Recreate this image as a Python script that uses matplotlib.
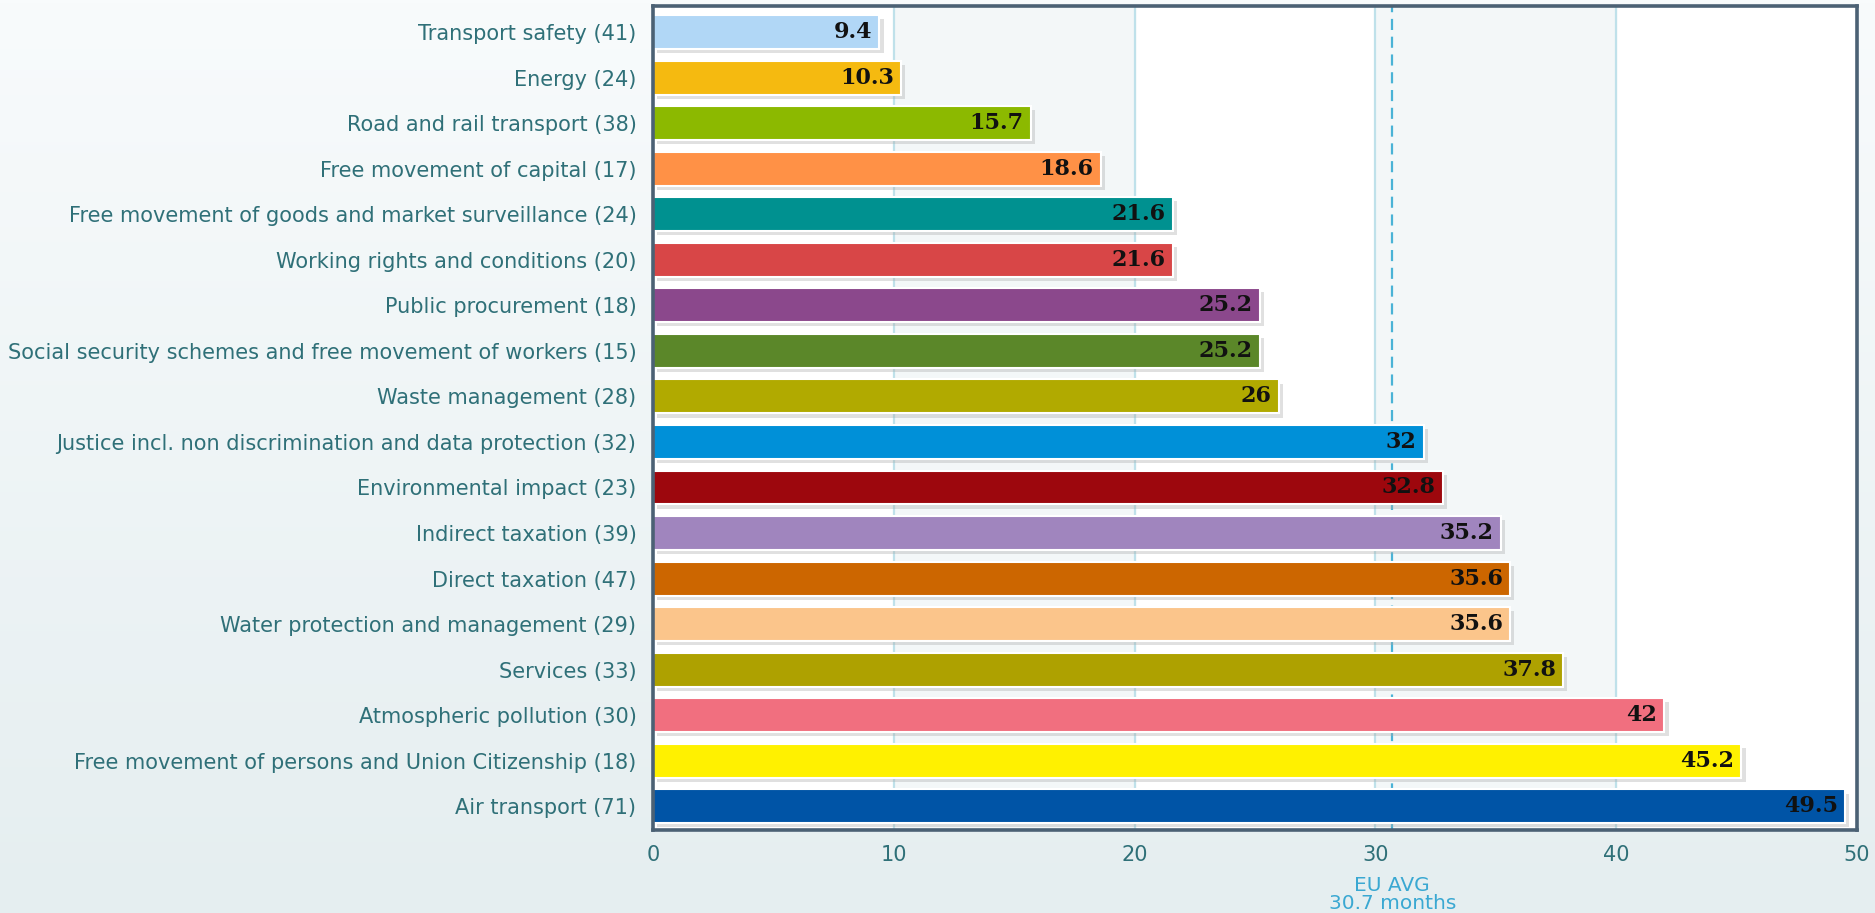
import matplotlib
matplotlib.use("Agg")
import matplotlib.pyplot as plt
import matplotlib.patheffects as pe
from matplotlib.colors import LinearSegmentedColormap
import numpy as np

# Datos del gráfico (de arriba hacia abajo)
categorias = [
    "Transport safety (41)",
    "Energy (24)",
    "Road and rail transport (38)",
    "Free movement of capital (17)",
    "Free movement of goods and market surveillance (24)",
    "Working rights and conditions (20)",
    "Public procurement (18)",
    "Social security schemes and free movement of workers (15)",
    "Waste management (28)",
    "Justice incl. non discrimination and data protection (32)",
    "Environmental impact (23)",
    "Indirect taxation (39)",
    "Direct taxation (47)",
    "Water protection and management (29)",
    "Services (33)",
    "Atmospheric pollution (30)",
    "Free movement of persons and Union Citizenship (18)",
    "Air transport (71)",
]
valores = [9.4, 10.3, 15.7, 18.6, 21.6, 21.6, 25.2, 25.2, 26, 32, 32.8, 35.2,
           35.6, 35.6, 37.8, 42, 45.2, 49.5]
etiquetas = ["9.4", "10.3", "15.7", "18.6", "21.6", "21.6", "25.2", "25.2", "26",
             "32", "32.8", "35.2", "35.6", "35.6", "37.8", "42", "45.2", "49.5"]
colores = ["#b1d7f6", "#f5ba10", "#8cb900", "#ff9146", "#009190", "#d84647",
           "#8b488c", "#5b8729", "#b1aa00", "#0090d8", "#9d070d", "#a085be",
           "#cc6600", "#fbc58b", "#aea100", "#f16f7f", "#fff100", "#0054a6"]
media_ue = 30.7
ticks_x = [0, 10, 20, 30, 40, 50]

COLOR_TEXTO = "#2f7078"

fig = plt.figure(figsize=(18.75, 9.13), dpi=100)

# Fondo degradado
fondo = fig.add_axes([0, 0, 1, 1], zorder=-10)
grad = np.linspace(0, 1, 256).reshape(-1, 1)
cmap_fondo = LinearSegmentedColormap.from_list("fondo", ["#f8fbfc", "#e5eef0"])
fondo.imshow(grad, aspect="auto", cmap=cmap_fondo, extent=[0, 1, 0, 1])
fondo.axis("off")

ax = fig.add_axes([0.3483, 0.0909, 0.6421, 0.9025])
ax.set_facecolor("white")

y = np.arange(len(categorias))

# Bandas alternas y líneas de cuadrícula
for i in range(len(ticks_x) - 1):
    if i % 2 == 1:
        ax.axvspan(ticks_x[i], ticks_x[i + 1], color="#f3f7f8", zorder=0)
for t in ticks_x[1:-1]:
    ax.axvline(t, color="#bfe1ea", lw=1.6, zorder=1)
ax.axvline(media_ue, color="#4ab3d6", lw=1.6, ls=(0, (5, 3)), zorder=1)

barras = ax.barh(y, valores, height=0.745, color=colores, edgecolor="white",
                 linewidth=1.5, zorder=3)
for b in barras:
    b.set_path_effects([pe.SimplePatchShadow(offset=(3, -3), shadow_rgbFace="#a8a8a8", alpha=0.35),
                        pe.Normal()])

for yi, v, et in zip(y, valores, etiquetas):
    ax.text(v - 0.3, yi, et, ha="right", va="center", fontsize=16,
            fontweight="bold", family="DejaVu Serif", color="#111111", zorder=4)

ax.set_xlim(0, 50)
ax.set_ylim(len(categorias) - 0.48, -0.57)
ax.set_xticks(ticks_x)
ax.set_yticks(y)
ax.set_yticklabels(categorias)
ax.tick_params(axis="y", length=0, pad=12, labelsize=15, labelcolor=COLOR_TEXTO)
ax.tick_params(axis="x", length=0, pad=11, labelsize=15, labelcolor=COLOR_TEXTO)

for s in ax.spines.values():
    s.set_color("#4b6174")
    s.set_linewidth(2.6)
    s.set_zorder(5)

ax.text(media_ue, -0.056, "EU AVG\n30.7 months", transform=ax.get_xaxis_transform(),
        ha="center", va="top", fontsize=14.5, color="#3aa8d2", linespacing=0.95)

plt.savefig("out.png", dpi=100)
plt.close()
